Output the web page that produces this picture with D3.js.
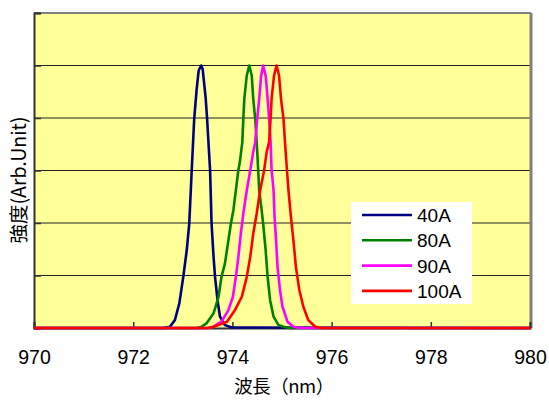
<!DOCTYPE html>
<html>
<head>
<meta charset="utf-8">
<script src="https://cdn.jsdelivr.net/npm/d3@7"></script>
<style>
  html, body { margin: 0; padding: 0; background: #ffffff; }
  svg { display: block; }
</style>
</head>
<body>
<svg id="chart" width="549" height="400"></svg>
<script>
// ---- data ----
const seriesNames = ["40A", "80A", "90A", "100A"];
const seriesColors = ["#000080", "#008000", "#FF00FF", "#FF0000"];

const wl40 = [970, 972.60, 972.74, 972.84, 972.93, 973.01, 973.08, 973.13, 973.18, 973.23, 973.28, 973.32, 973.37, 973.40, 973.46, 973.49, 973.55, 973.58, 973.62, 973.65, 973.70, 973.75, 973.85, 973.99, 980];
const in40 = [0, 0, 0.005, 0.03, 0.094, 0.195, 0.297, 0.398, 0.601, 0.797, 0.911, 0.981, 1.0, 0.987, 0.879, 0.797, 0.601, 0.398, 0.271, 0.195, 0.106, 0.043, 0.011, 0.002, 0];

const wl80 = [970, 973.28, 973.38, 973.48, 973.62, 973.72, 973.78, 973.85, 973.92, 973.97, 974.02, 974.07, 974.12, 974.15, 974.20, 974.22, 974.24, 974.29, 974.34, 974.39, 974.42, 974.46, 974.49, 974.52, 974.54, 974.59, 974.62, 974.67, 974.71, 974.76, 974.83, 974.93, 975.03, 975.15, 980];
const in80 = [0, 0, 0.005, 0.018, 0.056, 0.119, 0.195, 0.246, 0.335, 0.398, 0.449, 0.525, 0.601, 0.632, 0.708, 0.797, 0.873, 0.962, 1.0, 0.962, 0.873, 0.797, 0.708, 0.601, 0.525, 0.449, 0.398, 0.297, 0.195, 0.106, 0.043, 0.011, 0.005, 0, 0];

const wl90 = [970, 973.50, 973.62, 973.78, 973.92, 974.01, 974.07, 974.12, 974.17, 974.22, 974.29, 974.36, 974.42, 974.46, 974.50, 974.54, 974.58, 974.62, 974.67, 974.71, 974.74, 974.77, 974.79, 974.83, 974.85, 974.88, 974.91, 974.96, 975.01, 975.11, 975.23, 975.35, 980];
const in90 = [0, 0, 0.005, 0.024, 0.068, 0.119, 0.195, 0.271, 0.36, 0.436, 0.525, 0.601, 0.670, 0.708, 0.797, 0.873, 0.962, 1.0, 0.962, 0.873, 0.797, 0.708, 0.601, 0.525, 0.423, 0.335, 0.233, 0.144, 0.081, 0.024, 0.005, 0, 0];

const wl100 = [970, 973.50, 973.62, 973.89, 974.05, 974.19, 974.29, 974.36, 974.42, 974.49, 974.56, 974.64, 974.69, 974.74, 974.77, 974.79, 974.84, 974.89, 974.94, 974.98, 975.03, 975.06, 975.10, 975.13, 975.18, 975.23, 975.28, 975.35, 975.43, 975.53, 975.67, 975.80, 980];
const in100 = [0, 0, 0.005, 0.024, 0.068, 0.119, 0.195, 0.271, 0.36, 0.436, 0.525, 0.601, 0.670, 0.708, 0.797, 0.873, 0.962, 1.0, 0.962, 0.873, 0.797, 0.708, 0.601, 0.525, 0.423, 0.335, 0.233, 0.144, 0.081, 0.03, 0.005, 0, 0];

const xTicks = [970, 972, 974, 976, 978, 980];
const yTicks = [0, 0.2, 0.4, 0.6, 0.8, 1.0, 1.2];
const xTitle = "波長（nm）";
const yTitle = "強度(Arb.Unit)";

const seriesWl = [wl40, wl80, wl90, wl100];
const seriesIn = [in40, in80, in90, in100];

// ---- layout ----
const svg = d3.select("#chart");
const L = 34, R = 530, T = 13, B = 328;

const x = d3.scaleLinear().domain([970, 980]).range([L, R]);
const y = d3.scaleLinear().domain([0, 1.2]).range([B, T]);

// plot background
svg.append("rect")
  .attr("x", L).attr("y", T).attr("width", R - L).attr("height", B - T)
  .attr("fill", "#FFFF99");

// gridlines
svg.append("g").selectAll("line")
  .data(yTicks.filter(d => d > 0 && d < 1.2))
  .join("line")
  .attr("x1", L).attr("x2", R)
  .attr("y1", d => y(d)).attr("y2", d => y(d))
  .attr("stroke", "#222").attr("stroke-width", 1);

// frame: top & right gray
svg.append("line").attr("x1", L).attr("x2", R + 1).attr("y1", T).attr("y2", T)
  .attr("stroke", "#808080").attr("stroke-width", 2);
svg.append("line").attr("x1", R + 1).attr("x2", R + 1).attr("y1", T).attr("y2", B)
  .attr("stroke", "#808080").attr("stroke-width", 3);

// y axis (ticks inward, no labels)
const yAxis = d3.axisLeft(y).tickValues(yTicks).tickSize(-7).tickFormat("");
const gy = svg.append("g").attr("transform", `translate(${L},0)`).call(yAxis);
gy.select(".domain").attr("stroke", "#333").attr("stroke-width", 2);
gy.selectAll(".tick line").attr("stroke", "#333").attr("stroke-width", 1.5);

// x axis (ticks inward)
const xAxis = d3.axisBottom(x).tickValues(xTicks).tickSize(-6).tickPadding(0).tickFormat(d3.format("d"));
const gx = svg.append("g").attr("transform", `translate(0,${B})`).call(xAxis);
gx.select(".domain").attr("stroke", "#333").attr("stroke-width", 2);
gx.selectAll(".tick line").attr("stroke", "#333").attr("stroke-width", 1.5);
gx.selectAll(".tick text")
  .attr("y", 36).attr("dy", null)
  .attr("font-family", "'Liberation Sans', Arial, sans-serif")
  .attr("font-size", 19.5).attr("fill", "#000");

// series lines
const line = d3.line().x(d => x(d[0])).y(d => y(d[1]));
seriesNames.forEach((name, i) => {
  const pts = seriesWl[i].map((w, j) => [w, seriesIn[i][j]]);
  svg.append("path")
    .datum(pts)
    .attr("d", line)
    .attr("fill", "none")
    .attr("stroke", seriesColors[i])
    .attr("stroke-width", 2.6)
    .attr("stroke-linejoin", "round");
});

// legend
const lg = svg.append("g");
lg.append("rect").attr("x", 351).attr("y", 202).attr("width", 121).attr("height", 102).attr("fill", "#ffffff");
seriesNames.forEach((name, i) => {
  const cy = 215 + i * 25.3;
  lg.append("line").attr("x1", 362).attr("x2", 412).attr("y1", cy).attr("y2", cy)
    .attr("stroke", seriesColors[i]).attr("stroke-width", 2.6);
  lg.append("text").attr("x", 417).attr("y", cy + 7)
    .attr("font-family", "'Liberation Sans', Arial, sans-serif")
    .attr("font-size", 19).attr("fill", "#000").text(name);
});

// axis titles
svg.append("text")
  .attr("x", 284).attr("y", 393)
  .attr("text-anchor", "middle")
  .attr("font-family", "'Noto Sans CJK JP', sans-serif")
  .attr("font-size", 18.5).attr("fill", "#000")
  .attr("letter-spacing", "-0.5")
  .text(xTitle);

svg.append("text")
  .attr("transform", "translate(26,180) rotate(-90)")
  .attr("text-anchor", "middle")
  .attr("font-family", "'Noto Sans CJK JP', sans-serif")
  .attr("font-size", 19.5).attr("fill", "#000")
  .text(yTitle);
</script>
</body>
</html>
